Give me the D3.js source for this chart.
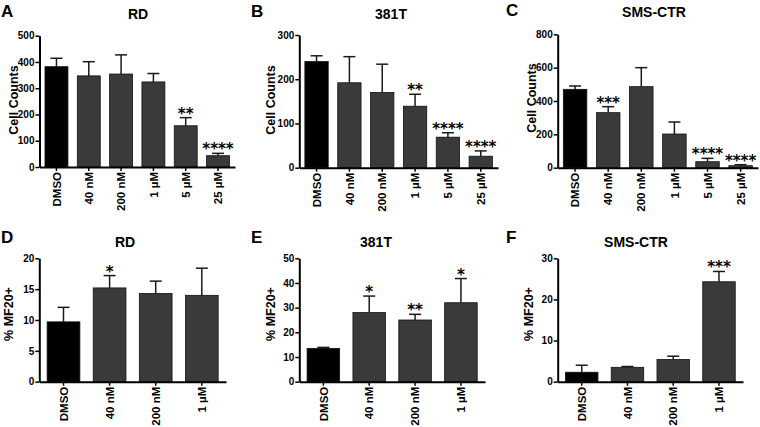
<!DOCTYPE html>
<html><head><meta charset="utf-8">
<script src="https://cdn.jsdelivr.net/npm/d3@7"></script>
<style>
body{margin:0;background:#fff}
svg{display:block}
text{font-family:"Liberation Sans",Arial,sans-serif;font-weight:bold;fill:#000}
</style>
</head><body>
<svg id="c" width="760" height="427"></svg>
<script>
// ---- data ----
const countCategories = ["DMSO", "40 nM", "200 nM", "1 µM", "5 µM", "25 µM"];
const mf20Categories = ["DMSO", "40 nM", "200 nM", "1 µM"];

const rdCounts = [382, 347, 354, 324, 157, 43];
const rdCountsSem = [32, 54, 73, 32, 31, 9];
const rdCountsStars = ["", "", "", "", "**", "****"];
const rdCountsTicks = [0, 100, 200, 300, 400, 500];

const t381Counts = [240, 192, 170, 139, 69, 26];
const t381CountsSem = [13, 59, 64, 27, 10, 12];
const t381CountsStars = ["", "", "", "**", "****", "****"];
const t381CountsTicks = [0, 100, 200, 300];

const smsCounts = [470, 330, 486, 202, 36, 12];
const smsCountsSem = [20, 36, 114, 72, 20, 6];
const smsCountsStars = ["", "***", "", "", "****", "****"];
const smsCountsTicks = [0, 200, 400, 600, 800];

const rdMF20 = [9.7, 15.2, 14.3, 14.0];
const rdMF20Sem = [2.35, 2.0, 2.0, 4.4];
const rdMF20Stars = ["", "*", "", ""];
const rdMF20Ticks = [0, 5, 10, 15, 20];

const t381MF20 = [13.5, 28.0, 25.0, 32.0];
const t381MF20Sem = [0.4, 6.7, 2.3, 9.8];
const t381MF20Stars = ["", "*", "**", "*"];
const t381MF20Ticks = [0, 10, 20, 30, 40, 50];

const smsMF20 = [2.3, 3.5, 5.4, 24.3];
const smsMF20Sem = [1.7, 0.2, 0.8, 2.5];
const smsMF20Stars = ["", "", "", "***"];
const smsMF20Ticks = [0, 10, 20, 30];

// ---- layout ----
const panels = [
  {letter:"A", title:"RD", yLabel:"Cell Counts", cats:countCategories, values:rdCounts, sem:rdCountsSem, stars:rdCountsStars, ticks:rdCountsTicks,
   x0:39.5, x1:235, yTop:35.7, yBot:167, lx:1, ly:17, tx:138, ty:18.5, ax:18, ay:100},
  {letter:"B", title:"381T", yLabel:"Cell Counts", cats:countCategories, values:t381Counts, sem:t381CountsSem, stars:t381CountsStars, ticks:t381CountsTicks,
   x0:299.3, x1:498, yTop:35, yBot:167.7, lx:251, ly:16.7, tx:391, ty:18.5, ax:275, ay:100},
  {letter:"C", title:"SMS-CTR", yLabel:"Cell Counts", cats:countCategories, values:smsCounts, sem:smsCountsSem, stars:smsCountsStars, ticks:smsCountsTicks,
   x0:557.7, x1:758, yTop:34.3, yBot:167.7, lx:506, ly:16, tx:654, ty:17, ax:536, ay:98},
  {letter:"D", title:"RD", yLabel:"% MF20+", cats:mf20Categories, values:rdMF20, sem:rdMF20Sem, stars:rdMF20Stars, ticks:rdMF20Ticks,
   x0:39.3, x1:226, yTop:258.3, yBot:381.7, lx:1, ly:243, tx:125, ty:247.3, ax:13, ay:314},
  {letter:"E", title:"381T", yLabel:"% MF20+", cats:mf20Categories, values:t381MF20, sem:t381MF20Sem, stars:t381MF20Stars, ticks:t381MF20Ticks,
   x0:299.3, x1:485, yTop:258.3, yBot:381.7, lx:251, ly:243, tx:376, ty:246.7, ax:275, ay:314},
  {letter:"F", title:"SMS-CTR", yLabel:"% MF20+", cats:mf20Categories, values:smsMF20, sem:smsMF20Sem, stars:smsMF20Stars, ticks:smsMF20Ticks,
   x0:557.7, x1:743, yTop:258.3, yBot:381.7, lx:506, ly:243, tx:636, ty:246.7, ax:533, ay:314}
];

const svg = d3.select("#c");

panels.forEach(p => {
  const g = svg.append("g");
  const x = d3.scaleBand().domain(p.cats).range([p.x0, p.x1]).paddingInner(0.29).paddingOuter(0.17);
  const y = d3.scaleLinear().domain([0, d3.max(p.ticks)]).range([p.yBot, p.yTop]);
  const cx = c => x(c) + x.bandwidth() / 2;

  // error bars (upper only)
  const eb = g.append("g").attr("stroke", "#1a1a1a").attr("stroke-width", 1.5);
  p.cats.forEach((c, i) => {
    const top = y(p.values[i] + p.sem[i]);
    eb.append("line").attr("x1", cx(c)).attr("x2", cx(c)).attr("y1", y(p.values[i])).attr("y2", top);
    eb.append("line").attr("x1", cx(c) - 6).attr("x2", cx(c) + 6).attr("y1", top).attr("y2", top);
  });

  // bars
  g.append("g").selectAll("rect").data(p.cats).join("rect")
    .attr("x", c => x(c))
    .attr("y", (c, i) => y(p.values[i]))
    .attr("width", x.bandwidth())
    .attr("height", (c, i) => p.yBot - y(p.values[i]))
    .attr("fill", (c, i) => i === 0 ? "#000" : "#3a3a3a")
    .attr("stroke", "#111").attr("stroke-width", 0.8);

  // significance stars
  g.append("g").selectAll("text").data(p.cats).join("text")
    .attr("x", c => cx(c))
    .attr("y", (c, i) => y(p.values[i] + p.sem[i]) + 1)
    .attr("text-anchor", "middle")
    .style("font-family", "'DejaVu Sans', sans-serif")
    .style("font-size", "15px")
    .text((c, i) => p.stars[i]);

  // y axis
  const ya = g.append("g").attr("transform", `translate(${p.x0},0)`)
    .call(d3.axisLeft(y).tickValues(p.ticks).tickSize(4).tickPadding(1).tickSizeOuter(0));
  ya.select(".domain").attr("stroke-width", 2);
  ya.selectAll(".tick line").attr("stroke-width", 1.5);
  ya.selectAll("text").style("font-size", "10px").style("font-family", "'Liberation Sans',Arial,sans-serif").style("font-weight", "bold");

  // x axis
  const xa = g.append("g").attr("transform", `translate(0,${p.yBot})`)
    .call(d3.axisBottom(x).tickSize(4).tickSizeOuter(0));
  xa.select(".domain").attr("stroke-width", 2);
  xa.selectAll(".tick line").attr("stroke-width", 1.5);
  xa.selectAll("text")
    .attr("transform", "rotate(-90)")
    .attr("x", -5).attr("y", 0).attr("dy", "0.36em")
    .style("text-anchor", "end")
    .style("font-size", "11.5px").style("font-family", "'Liberation Sans',Arial,sans-serif").style("font-weight", "bold");

  // y label
  g.append("text")
    .attr("transform", `translate(${p.ax},${p.ay}) rotate(-90)`)
    .attr("text-anchor", "middle")
    .style("font-size", "12.5px")
    .text(p.yLabel);

  // title
  g.append("text").attr("x", p.tx).attr("y", p.ty).attr("text-anchor", "middle")
    .style("font-size", "14px").text(p.title);

  // panel letter
  g.append("text").attr("x", p.lx).attr("y", p.ly)
    .style("font-size", "17px").text(p.letter);
});
</script>
</body></html>
